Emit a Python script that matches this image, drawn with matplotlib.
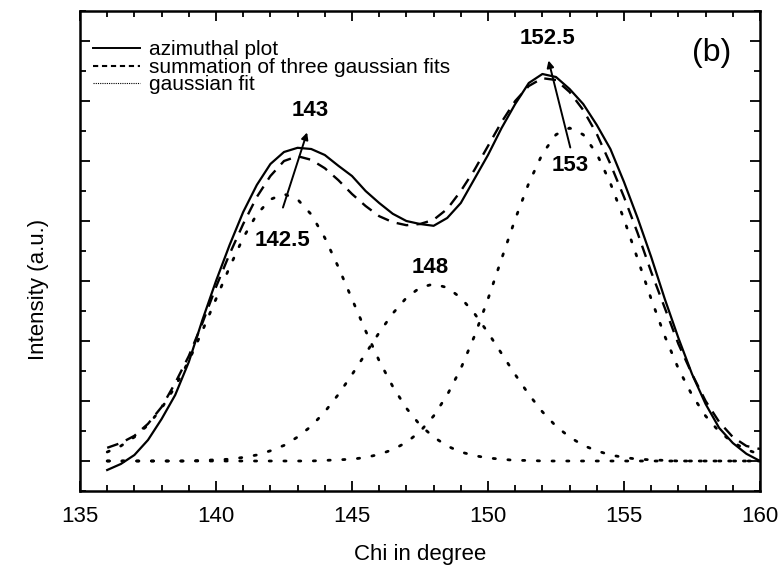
import numpy as np
import matplotlib
matplotlib.use("Agg")
import matplotlib.pyplot as plt
from matplotlib.lines import Line2D
from matplotlib.ticker import MultipleLocator, NullFormatter

plt.rcParams['font.family'] = ['Liberation Sans', 'DejaVu Sans']

# chi values (degree), 0.5 step from 136 to 160
chi = np.arange(136.0, 160.01, 0.5)

azimuthal = [-0.15, -0.05, 0.10, 0.35, 0.70, 1.10, 1.65, 2.35, 3.00, 3.60,
             4.15, 4.60, 4.95, 5.15, 5.22, 5.20, 5.10, 4.92, 4.75, 4.50,
             4.30, 4.12, 4.00, 3.95, 3.92, 4.05, 4.30, 4.70, 5.10, 5.55,
             5.95, 6.30, 6.45, 6.40, 6.20, 5.95, 5.60, 5.20, 4.65, 4.05,
             3.40, 2.70, 2.05, 1.45, 0.95, 0.55, 0.30, 0.12, 0.00]

summation = [0.22, 0.30, 0.42, 0.62, 0.90, 1.30, 1.75, 2.30, 2.90, 3.45,
             3.95, 4.40, 4.75, 5.00, 5.08, 5.02, 4.88, 4.68, 4.45, 4.25,
             4.08, 3.98, 3.93, 3.95, 4.02, 4.20, 4.50, 4.85, 5.25, 5.65,
             6.00, 6.25, 6.38, 6.35, 6.15, 5.85, 5.45, 4.95, 4.40, 3.80,
             3.15, 2.55, 1.95, 1.45, 1.00, 0.65, 0.40, 0.25, 0.20]

gauss_1425 = [0.15, 0.25, 0.40, 0.60, 0.88, 1.24, 1.67, 2.17, 2.70, 3.23,
              3.72, 4.11, 4.36, 4.45, 4.36, 4.11, 3.72, 3.23, 2.70, 2.17,
              1.67, 1.24, 0.88, 0.60, 0.40, 0.25, 0.15, 0.09, 0.05, 0.03,
              0.01, 0.01, 0.00, 0.00, 0.00, 0.00, 0.00, 0.00, 0.00, 0.00,
              0.00, 0.00, 0.00, 0.00, 0.00, 0.00, 0.00, 0.00, 0.00]

gauss_148 = [0.00, 0.00, 0.00, 0.00, 0.00, 0.00, 0.00, 0.01, 0.02, 0.03,
             0.06, 0.10, 0.17, 0.26, 0.40, 0.58, 0.82, 1.11, 1.44, 1.79,
             2.14, 2.46, 2.72, 2.89, 2.95, 2.89, 2.72, 2.46, 2.14, 1.79,
             1.44, 1.11, 0.82, 0.58, 0.40, 0.26, 0.17, 0.10, 0.06, 0.03,
             0.02, 0.01, 0.00, 0.00, 0.00, 0.00, 0.00, 0.00, 0.00]

gauss_153 = [0.00, 0.00, 0.00, 0.00, 0.00, 0.00, 0.00, 0.00, 0.00, 0.00,
             0.00, 0.00, 0.00, 0.00, 0.00, 0.00, 0.01, 0.02, 0.03, 0.06,
             0.11, 0.19, 0.31, 0.49, 0.75, 1.10, 1.54, 2.08, 2.70, 3.37,
             4.03, 4.63, 5.12, 5.44, 5.55, 5.44, 5.12, 4.63, 4.03, 3.37,
             2.70, 2.08, 1.54, 1.10, 0.75, 0.49, 0.31, 0.19, 0.11]

legend_labels = ['azimuthal plot', 'summation of three gaussian fits', 'gaussian fit']

fig = plt.figure(figsize=(7.81, 5.74), dpi=100)
ax = fig.add_axes([80 / 781, 83 / 574, 680 / 781, 480 / 574])

ax.plot(chi, azimuthal, color='black', lw=1.6)
ax.plot(chi, summation, color='black', lw=1.7, dashes=(5, 3.5))
for g in (gauss_1425, gauss_148, gauss_153):
    ax.plot(chi, g, color='black', lw=2.0, dashes=(0.8, 4.5),
            dash_capstyle='round')

ax.set_xlim(135, 160)
ax.set_ylim(-0.5, 7.5)
ax.xaxis.set_major_locator(MultipleLocator(5))
ax.xaxis.set_minor_locator(MultipleLocator(1))
ax.yaxis.set_major_locator(MultipleLocator(1))
ax.yaxis.set_minor_locator(MultipleLocator(0.5))
ax.yaxis.set_major_formatter(NullFormatter())
ax.tick_params(which='both', direction='in', top=True, right=True, width=1.3)
ax.tick_params(which='major', length=7, labelsize=16, pad=11)
ax.tick_params(which='minor', length=4)
for sp in ax.spines.values():
    sp.set_linewidth(1.8)

ax.set_xlabel('Chi in degree', fontsize=16, labelpad=12)
ax.set_ylabel('Intensity (a.u.)', fontsize=16)
ax.yaxis.set_label_coords(-0.045, 0.42)

handles = [Line2D([], [], color='black', lw=1.4),
           Line2D([], [], color='black', lw=1.5, dashes=(2.5, 1.8)),
           Line2D([], [], color='black', lw=0.8, dashes=(1, 1))]
ax.legend(handles, legend_labels, loc='upper left', frameon=False,
          fontsize=15, handlelength=2.3, handletextpad=0.4,
          labelspacing=-0.07, borderaxespad=0.2, bbox_to_anchor=(0.0, 0.965))

ax.text(0.929, 0.9125, '(b)', transform=ax.transAxes, fontsize=23,
        ha='center', va='center')

bold = dict(fontsize=16, fontweight='bold', ha='center', va='center')
ax.annotate('', xy=(143.38, 5.52), xytext=(142.43, 4.18),
            arrowprops=dict(arrowstyle='-|>', color='black', lw=1.4,
                            mutation_scale=10))
ax.annotate('', xy=(152.2, 6.72), xytext=(153.05, 5.18),
            arrowprops=dict(arrowstyle='-|>', color='black', lw=1.4,
                            mutation_scale=10))
ax.text(143.46, 5.85, '143', **bold)
ax.text(142.46, 3.68, '142.5', **bold)
ax.text(147.87, 3.23, '148', **bold)
ax.text(152.17, 7.05, '152.5', **bold)
ax.text(153.01, 4.92, '153', **bold)

fig.savefig('out.png', dpi=100)
